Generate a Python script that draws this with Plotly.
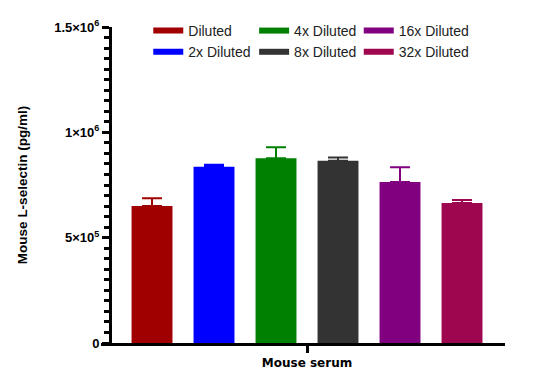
import plotly.graph_objects as go

categories = ["Mouse serum"]
series_names = ["Diluted", "2x Diluted", "4x Diluted", "8x Diluted", "16x Diluted", "32x Diluted"]
means = [6.50e5, 8.37e5, 8.77e5, 8.65e5, 7.64e5, 6.64e5]
errors = [0.37e5, 0.09e5, 0.52e5, 0.16e5, 0.70e5, 0.15e5]
colors = ["#A00000", "#0000FF", "#008000", "#333333", "#800080", "#9E0650"]
legend_ids = ["legend", "legend", "legend2", "legend2", "legend3", "legend3"]

y_tickvals = [0, 5e5, 1e6, 1.5e6]
y_ticktext = ["0", "5×10<sup>5</sup>", "1×10<sup>6</sup>", "1.5×10<sup>6</sup>"]

fig = go.Figure()
for name, m, e, c in zip(series_names, means, errors, colors):
    fig.add_trace(go.Bar(
        x=categories, y=[m], name=name, showlegend=False,
        marker=dict(color=c, line=dict(width=0)),
        error_y=dict(type="data", symmetric=False, array=[e], arrayminus=[0],
                     color=c, thickness=2, width=10),
    ))
for name, c, lg in zip(series_names, colors, legend_ids):
    fig.add_trace(go.Scatter(
        x=[None], y=[None], mode="lines", name=name,
        line=dict(color=c, width=6), legend=lg, showlegend=True,
    ))

font_family = "Liberation Sans, Arial, sans-serif"
legend_common = dict(
    orientation="v", xanchor="left", yanchor="top", y=1.038,
    bgcolor="rgba(0,0,0,0)", borderwidth=0,
    font=dict(family=font_family, size=14, color="#222222"),
    tracegroupgap=0,
)

# page has an 8px body margin, so the figure is laid out 8px up/left
fig.update_layout(
    width=550, height=389,
    margin=dict(l=93, r=53, t=19, b=54, autoexpand=False),
    plot_bgcolor="white", paper_bgcolor="white",
    barmode="group", bargap=0.1, bargroupgap=0.34,
    legend=dict(x=0.117, **legend_common),
    legend2=dict(x=0.379, **legend_common),
    legend3=dict(x=0.638, **legend_common),
    xaxis=dict(
        range=[-0.4984, 0.479], showline=True, linecolor="black", linewidth=3,
        ticks="outside", ticklen=7, tickwidth=3, tickcolor="black",
        tickfont=dict(family="DejaVu Sans", size=12, color="black", weight="bold"),
        showgrid=False, zeroline=False, fixedrange=True,
    ),
    yaxis=dict(
        range=[0, 1.5e6], anchor="free", position=9 / 404,
        showline=True, linecolor="black", linewidth=3,
        tickvals=y_tickvals, ticktext=y_ticktext,
        ticks="outside", ticklen=7, tickwidth=3, tickcolor="black",
        minor=dict(dtick=5e4, ticks="outside", ticklen=5, tickwidth=3, tickcolor="black"),
        tickfont=dict(family=font_family, size=13, color="black", weight="bold"),
        showgrid=False, zeroline=False,
        title=dict(text="Mouse L-selectin (pg/ml)", standoff=22,
                   font=dict(family=font_family, size=13.5, color="black", weight="bold")),
    ),
)

fig.write_html("out.html")
